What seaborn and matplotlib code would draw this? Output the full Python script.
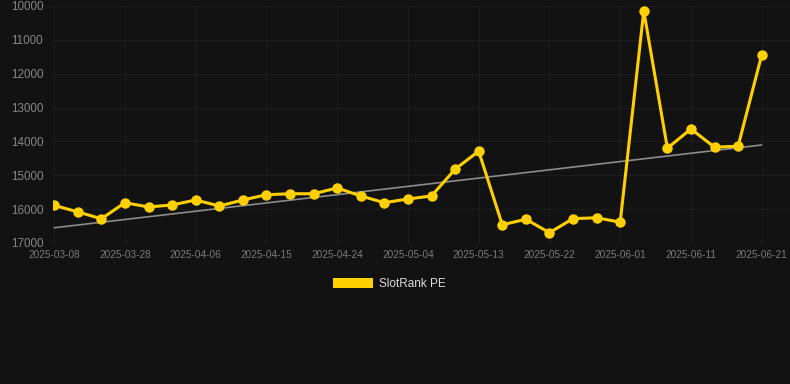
import matplotlib
matplotlib.use("Agg")
import matplotlib.pyplot as plt
import numpy as np
import pandas as pd
import seaborn as sns
from matplotlib.patches import Patch

# Data
dates = ["2025-03-08", "2025-03-15", "2025-03-22", "2025-03-28", "2025-03-31",
         "2025-04-03", "2025-04-06", "2025-04-09", "2025-04-12", "2025-04-15",
         "2025-04-18", "2025-04-21", "2025-04-24", "2025-04-27", "2025-05-01",
         "2025-05-04", "2025-05-07", "2025-05-10", "2025-05-13", "2025-05-16",
         "2025-05-19", "2025-05-22", "2025-05-25", "2025-05-29", "2025-06-01",
         "2025-06-04", "2025-06-08", "2025-06-11", "2025-06-14", "2025-06-18",
         "2025-06-21"]
rank = [15890, 16080, 16285, 15810, 15936, 15877, 15730, 15907, 15730, 15575,
        15545, 15545, 15375, 15611, 15809, 15700, 15611, 14820, 14288, 16462,
        16298, 16695, 16280, 16255, 16385, 10142, 14200, 13632, 14170, 14140,
        11447]
series_name = "SlotRank PE"
# trend line end values, as drawn in the reference
trend_ends = [16550, 14105]

# General settings
bg = "#121212"
grid_color = "#1d1d1d"
tick_color = "#858585"
line_color = "#FFD000"

df = pd.DataFrame({"idx": np.arange(len(dates)), "date": dates, "rank": rank})
df_trend = pd.DataFrame({"idx": [0, len(dates) - 1], "trend": trend_ends})

sns.set_theme(style="dark")
plt.rcParams["font.family"] = ["Liberation Sans", "DejaVu Sans"]

fig = plt.figure(figsize=(7.9, 3.84), dpi=100, facecolor=bg)
ax = fig.add_axes([53 / 790, 1 - 243 / 384, 1 - 53 / 790, 237 / 384])
ax.set_facecolor(bg)

sns.lineplot(data=df_trend, x="idx", y="trend", ax=ax, color="#8c8c8c", linewidth=1.2, zorder=2)
sns.lineplot(data=df, x="idx", y="rank", ax=ax, color=line_color, linewidth=2.2,
             marker="o", markersize=7.5, markeredgewidth=0, zorder=3)

ax.set_ylim(17000, 10000)
ax.set_yticks(np.arange(10000, 17001, 1000))
ax.set_xlim(-0.05, 31.2)
tick_idx = list(range(0, len(dates), 3))
ax.set_xticks(tick_idx)
ax.set_xticklabels([dates[i] for i in tick_idx])

ax.grid(True, color=grid_color, linewidth=0.8)
ax.axhline(17000, color="#2a2a2a", linewidth=0.8, zorder=1)
ax.set_axisbelow(True)
for s in ax.spines.values():
    s.set_visible(False)
ax.tick_params(axis="y", colors=tick_color, labelsize=8.4, length=0, pad=7)
ax.tick_params(axis="x", colors="#7a7a7a", labelsize=7.2, length=0, pad=5)
ax.set_xlabel("")
ax.set_ylabel("")

fig.legend(handles=[Patch(facecolor=line_color, edgecolor="none", label=series_name)],
           loc="center", bbox_to_anchor=(389 / 790, 1 - 284 / 384), frameon=False,
           fontsize=8.5, labelcolor="#dddddd", handlelength=3.4, handleheight=0.95,
           handletextpad=0.5)

fig.savefig("out.png", dpi=100, facecolor=bg)
